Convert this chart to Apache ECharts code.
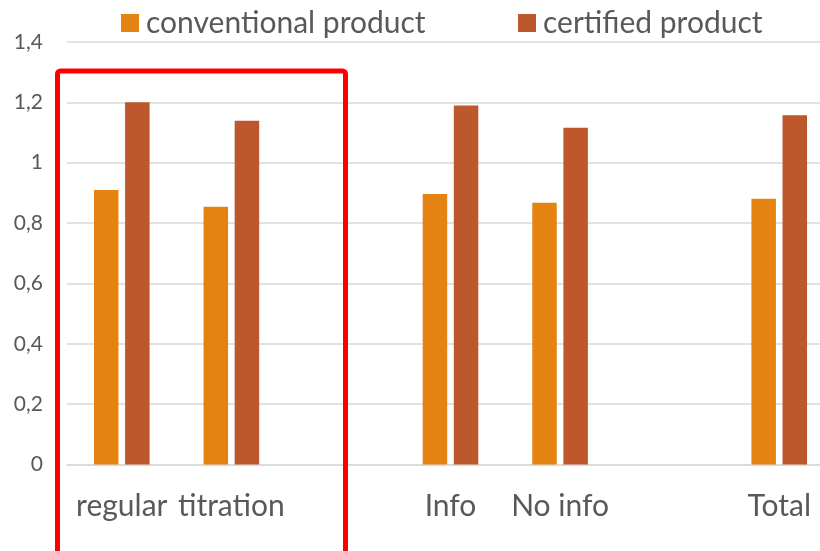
<!DOCTYPE html>
<html>
<head>
<meta charset="utf-8">
<script src="https://cdn.jsdelivr.net/npm/echarts@6/dist/echarts.min.js"></script>
<style>
  html, body { margin: 0; padding: 0; background: #fff; }
  #chart { width: 820px; height: 551px; }
</style>
</head>
<body>
<div id="chart"></div>
<script>
// Group labels (blank entries leave space between the groups)
const categories = ['regular', 'titration', '', 'Info', 'No info', '', 'Total'];
// Mean values per group
const conventional = [0.91, 0.854, null, 0.896, 0.867, null, 0.881];
const certified    = [1.20, 1.139, null, 1.190, 1.116, null, 1.157];
const seriesNames = ['conventional product', 'certified product'];

const FONT = 'Lato, "Open Sans", sans-serif';
const TEXT = '#595959';
const GRID = '#d9d9d9';

const chart = echarts.init(document.getElementById('chart'), null, { renderer: 'canvas' });

const legendText = { fontFamily: FONT, fontSize: 30, color: TEXT, padding: [0, 0, 0, 2] };

const option = {
  backgroundColor: '#ffffff',
  animation: false,
  textStyle: { fontFamily: FONT },
  legend: [
    {
      left: 116, top: 3,
      data: [seriesNames[0]],
      icon: 'rect', itemWidth: 18, itemHeight: 18,
      textStyle: legendText
    },
    {
      left: 513, top: 3,
      data: [seriesNames[1]],
      icon: 'rect', itemWidth: 18, itemHeight: 18,
      textStyle: legendText
    }
  ],
  // plot area runs slightly past the right edge of the canvas
  grid: {
    left: 67, top: 42, width: 767, height: 422.5,
    containLabel: false, outerBoundsMode: 'none'
  },
  xAxis: {
    type: 'category',
    data: categories,
    axisLine: { show: true, lineStyle: { color: GRID, width: 1.5 } },
    axisTick: { show: false },
    axisLabel: { fontFamily: FONT, fontSize: 30, color: TEXT, margin: 27, interval: 0 }
  },
  yAxis: {
    type: 'value',
    min: 0, max: 1.4, interval: 0.2,
    axisLine: { show: false },
    axisTick: { show: false },
    splitLine: { lineStyle: { color: GRID, width: 1.5 } },
    axisLabel: {
      fontFamily: FONT, fontSize: 21, color: TEXT, margin: 24,
      formatter: v => String(+v.toFixed(1)).replace('.', ',')
    }
  },
  series: [
    {
      name: seriesNames[0], type: 'bar', data: conventional,
      barWidth: 24.5, barGap: '27%',
      itemStyle: { color: '#E48312' }
    },
    {
      name: seriesNames[1], type: 'bar', data: certified,
      barWidth: 24.5, barGap: '27%',
      itemStyle: { color: '#BD582C' }
    }
  ],
  // Red frame highlighting the first two groups
  graphic: [
    {
      type: 'rect',
      shape: { x: 57.5, y: 71, width: 288, height: 520, r: 3 },
      style: { fill: 'none', stroke: '#FF0000', lineWidth: 5 },
      z: 100
    }
  ]
};

chart.setOption(option);
</script>
</body>
</html>
